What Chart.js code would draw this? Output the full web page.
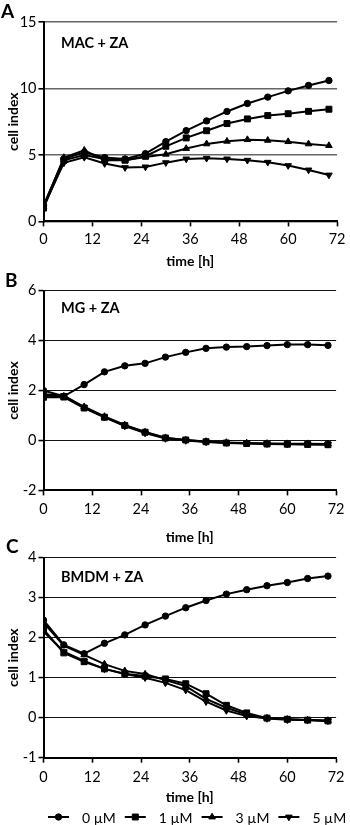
<!DOCTYPE html>
<html>
<head>
<meta charset="utf-8">
<script src="https://cdn.jsdelivr.net/npm/chart.js@4.4.0/dist/chart.umd.min.js"></script>
<style>
  body { margin: 0; width: 350px; height: 825px; position: relative; background: #fff; overflow: hidden; font-family: Lato, "Open Sans", sans-serif; color: #000; }
  .box { position: absolute; left: 0; width: 350px; }
  .letter { position: absolute; font-weight: bold; font-size: 19px; line-height: 1; }
  .tag { position: absolute; font-weight: bold; font-size: 14.5px; line-height: 1; }
</style>
</head>
<body>
<div class="box" style="top:0;height:270px"><canvas id="chartA"></canvas></div>
<div class="box" style="top:270px;height:276px"><canvas id="chartB"></canvas></div>
<div class="box" style="top:535px;height:290px"><canvas id="chartC"></canvas></div>

<div class="letter" style="left:1px;top:1px">A</div>
<div class="letter" style="left:5px;top:270px">B</div>
<div class="letter" style="left:6px;top:536px">C</div>
<div class="tag" style="left:61px;top:36px">MAC + ZA</div>
<div class="tag" style="left:61px;top:301px">MG + ZA</div>
<div class="tag" style="left:61px;top:570px">BMDM + ZA</div>

<script>
// time points (h)
const timeH = [0, 5, 10, 15, 20, 25, 30, 35, 40, 45, 50, 55, 60, 65, 70];
const concLabels = ["0 µM", "1 µM", "3 µM", "5 µM"];
const xTicks = [0, 12, 24, 36, 48, 60, 72];

// A: MAC + ZA
const macZA0 = [1.2, 4.7, 5.2, 4.8, 4.7, 5.1, 6.0, 6.83, 7.56, 8.27, 8.87, 9.35, 9.82, 10.23, 10.6];
const macZA1 = [1.0, 4.6, 5.0, 4.7, 4.6, 4.9, 5.65, 6.28, 6.82, 7.36, 7.71, 7.96, 8.1, 8.28, 8.44];
const macZA3 = [1.1, 4.8, 5.35, 4.6, 4.6, 4.85, 5.05, 5.48, 5.83, 6.03, 6.15, 6.1, 6.0, 5.83, 5.7];
const macZA5 = [1.1, 4.4, 4.82, 4.35, 4.05, 4.1, 4.42, 4.7, 4.75, 4.7, 4.6, 4.45, 4.2, 3.87, 3.49];
const yTicksA = [0, 5, 10, 15];

// B: MG + ZA
const mgZA0 = [2.0, 1.77, 2.24, 2.75, 2.99, 3.09, 3.34, 3.53, 3.69, 3.74, 3.76, 3.8, 3.84, 3.84, 3.81];
const mgZA1 = [1.73, 1.74, 1.3, 0.93, 0.6, 0.33, 0.1, 0.02, -0.05, -0.1, -0.12, -0.14, -0.15, -0.16, -0.17];
const mgZA3 = [1.8, 1.77, 1.35, 0.96, 0.62, 0.34, 0.11, 0.02, -0.04, -0.08, -0.1, -0.12, -0.13, -0.13, -0.14];
const mgZA5 = [1.85, 1.8, 1.33, 0.94, 0.58, 0.3, 0.08, 0.0, -0.06, -0.09, -0.11, -0.13, -0.14, -0.15, -0.15];
const yTicksB = [-2, 0, 2, 4, 6];

// C: BMDM + ZA
const bmdmZA0 = [2.44, 1.82, 1.6, 1.86, 2.07, 2.32, 2.54, 2.75, 2.93, 3.09, 3.2, 3.3, 3.38, 3.48, 3.54];
const bmdmZA1 = [2.21, 1.62, 1.4, 1.22, 1.1, 1.04, 0.97, 0.85, 0.6, 0.31, 0.12, -0.01, -0.04, -0.06, -0.08];
const bmdmZA3 = [2.38, 1.8, 1.57, 1.34, 1.17, 1.09, 0.94, 0.79, 0.47, 0.25, 0.08, -0.01, -0.04, -0.06, -0.07];
const bmdmZA5 = [2.15, 1.65, 1.42, 1.22, 1.09, 1.0, 0.87, 0.69, 0.4, 0.18, 0.04, -0.02, -0.05, -0.06, -0.08];
const yTicksC = [-1, 0, 1, 2, 3, 4];

const FONT = "Lato, 'Open Sans', sans-serif";
const markers = [
  { pointStyle: "circle", rotation: 0, radius: 3.2 },
  { pointStyle: "rect", rotation: 0, radius: 4.2 },
  { pointStyle: "triangle", rotation: 0, radius: 3.8 },
  { pointStyle: "triangle", rotation: 180, radius: 3.8 },
];

function makeDatasets(series) {
  return series.map((vals, i) => ({
    label: concLabels[i],
    data: vals.map((v, j) => ({ x: timeH[j], y: v })),
    borderColor: "#000",
    backgroundColor: "#000",
    borderWidth: 2,
    pointStyle: markers[i].pointStyle,
    rotation: markers[i].rotation,
    pointRadius: markers[i].radius,
    pointBorderWidth: 1,
    tension: 0,
  }));
}

// legend with line + marker, drawn under panel C
const lineLegend = {
  id: "lineLegend",
  afterDraw(chart, args, opts) {
    const ctx = chart.ctx;
    const y = opts.y;
    ctx.save();
    ctx.font = "14px " + FONT;
    ctx.textBaseline = "middle";
    const lineW = 21, gapT = 13, gapN = 9;
    let x = chart.chartArea.left + 4.5;
    chart.data.datasets.forEach((ds, i) => {
      ctx.strokeStyle = "#000";
      ctx.fillStyle = "#000";
      ctx.lineWidth = 2;
      ctx.beginPath();
      ctx.moveTo(x, y);
      ctx.lineTo(x + lineW, y);
      ctx.stroke();
      ctx.lineWidth = 1;
      Chart.helpers.drawPoint(ctx, {
        pointStyle: ds.pointStyle, rotation: ds.rotation, radius: ds.pointRadius, borderWidth: 1,
      }, x + lineW / 2, y);
      ctx.fillText(concLabels[i], x + lineW + gapT, y + 1);
      x += lineW + gapT + ctx.measureText(concLabels[i]).width + gapN;
    });
    ctx.restore();
  },
};

function makeChart(id, series, yTicks, geo) {
  const step = yTicks[1] - yTicks[0];
  return new Chart(document.getElementById(id), {
    type: "line",
    data: { datasets: makeDatasets(series) },
    plugins: geo.legendY ? [lineLegend] : [],
    options: {
      responsive: true,
      maintainAspectRatio: false,
      animation: false,
      layout: { padding: { top: geo.top, right: 7, left: 0, bottom: 0 } },
      plugins: {
        legend: { display: false },
        tooltip: { enabled: false },
        lineLegend: { y: geo.legendY },
      },
      scales: {
        x: {
          type: "linear",
          min: xTicks[0],
          max: xTicks[xTicks.length - 1],
          afterBuildTicks: (s) => { s.ticks = xTicks.map((v) => ({ value: v })); },
          afterFit: (s) => { s.height = geo.xHeight; },
          ticks: { color: "#000", padding: geo.xPad, font: { family: FONT, size: 14.5 }, maxRotation: 0 },
          grid: { drawOnChartArea: false, drawTicks: true, tickLength: 5, tickColor: "#000", tickWidth: 1.6 },
          border: { color: "#000", width: 2 },
          title: {
            display: true, text: "time [h]", color: "#000",
            font: { family: FONT, size: 14, weight: "bold", lineHeight: 1.2 },
            padding: { top: 0, bottom: geo.titlePad },
          },
        },
        y: {
          min: yTicks[0],
          max: yTicks[yTicks.length - 1],
          afterBuildTicks: (s) => { s.ticks = yTicks.map((v) => ({ value: v })); },
          afterFit: (s) => { s.width = 43.5; },
          ticks: { color: "#000", padding: 2, stepSize: step, font: { family: FONT, size: 14.5 } },
          grid: {
            color: geo.gridColor, lineWidth: geo.gridWidth,
            drawTicks: true, tickLength: 5, tickColor: "#000", tickWidth: 1.6,
          },
          border: { color: "#000", width: 2 },
          title: {
            display: true, text: "cell index", color: "#000",
            font: { family: FONT, size: 14, weight: "bold", lineHeight: 1.2 },
            padding: { top: 4.6, bottom: 0 },
          },
        },
      },
    },
  });
}

makeChart("chartA", [macZA0, macZA1, macZA3, macZA5], yTicksA,
  { top: 22, xHeight: 48.6, xPad: 4.5, titlePad: 0, gridColor: "#666", gridWidth: 1.6 });
makeChart("chartB", [mgZA0, mgZA1, mgZA3, mgZA5], yTicksB,
  { top: 20.7, xHeight: 55.6, xPad: 5.5, titlePad: 0, gridColor: "#111", gridWidth: 1.1 });
makeChart("chartC", [bmdmZA0, bmdmZA1, bmdmZA3, bmdmZA5], yTicksC,
  { top: 22.7, xHeight: 67.3, xPad: 5.5, titlePad: 19.6, gridColor: "#111", gridWidth: 1.1, legendY: 282 });
</script>
</body>
</html>
